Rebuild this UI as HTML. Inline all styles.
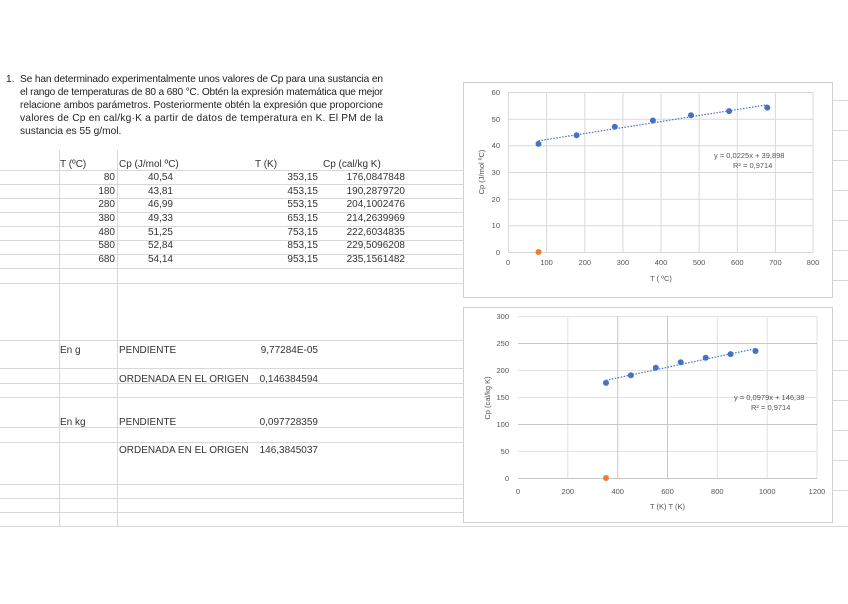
<!DOCTYPE html>
<html><head><meta charset="utf-8"><style>
body{margin:0;background:#fff;width:848px;height:599px;overflow:hidden;font-family:"Liberation Sans",sans-serif}
</style></head><body>
<svg width="848" height="599" xmlns="http://www.w3.org/2000/svg" font-family="Liberation Sans, sans-serif">
<rect width="848" height="599" fill="#fff"/>
<!-- sheet grid -->
<g stroke="#d8d8d8" stroke-width="1">
<line x1="0" y1="170.5" x2="463" y2="170.5"/>
<line x1="0" y1="184.5" x2="463" y2="184.5"/>
<line x1="0" y1="198.5" x2="463" y2="198.5"/>
<line x1="0" y1="212.5" x2="463" y2="212.5"/>
<line x1="0" y1="226.5" x2="463" y2="226.5"/>
<line x1="0" y1="240.5" x2="463" y2="240.5"/>
<line x1="0" y1="254.5" x2="463" y2="254.5"/>
<line x1="0" y1="268.5" x2="463" y2="268.5"/>
<line x1="0" y1="283.5" x2="463" y2="283.5"/>
<line x1="0" y1="340.5" x2="463" y2="340.5"/>
<line x1="0" y1="368.5" x2="463" y2="368.5"/>
<line x1="0" y1="383.5" x2="463" y2="383.5"/>
<line x1="0" y1="397.5" x2="463" y2="397.5"/>
<line x1="0" y1="427.5" x2="463" y2="427.5"/>
<line x1="0" y1="442.5" x2="463" y2="442.5"/>
<line x1="0" y1="484.5" x2="463" y2="484.5"/>
<line x1="0" y1="498.5" x2="463" y2="498.5"/>
<line x1="0" y1="512.5" x2="463" y2="512.5"/>
<line x1="0" y1="526.5" x2="848" y2="526.5"/>
<line x1="59.5" y1="150" x2="59.5" y2="526"/>
<line x1="117.5" y1="150" x2="117.5" y2="526"/>
<line x1="833" y1="100.5" x2="848" y2="100.5"/>
<line x1="833" y1="130.5" x2="848" y2="130.5"/>
<line x1="833" y1="160.5" x2="848" y2="160.5"/>
<line x1="833" y1="190.5" x2="848" y2="190.5"/>
<line x1="833" y1="220.5" x2="848" y2="220.5"/>
<line x1="833" y1="250.5" x2="848" y2="250.5"/>
<line x1="833" y1="280.5" x2="848" y2="280.5"/>
<line x1="833" y1="340.5" x2="848" y2="340.5"/>
<line x1="833" y1="370.5" x2="848" y2="370.5"/>
<line x1="833" y1="400.5" x2="848" y2="400.5"/>
<line x1="833" y1="430.5" x2="848" y2="430.5"/>
<line x1="833" y1="460.5" x2="848" y2="460.5"/>
<line x1="833" y1="490.5" x2="848" y2="490.5"/>
</g>
<!-- paragraph -->
<g font-size="10.2" fill="#222">
<text x="6" y="82">1.</text>
<text x="20" y="82" textLength="363" lengthAdjust="spacing">Se han determinado experimentalmente unos valores de Cp para una sustancia en</text>
<text x="20" y="95" textLength="363" lengthAdjust="spacing">el rango de temperaturas de 80 a 680 °C. Obtén la expresión matemática que mejor</text>
<text x="20" y="108" textLength="363" lengthAdjust="spacing">relacione ambos parámetros. Posteriormente obtén la expresión que proporcione</text>
<text x="20" y="121" textLength="363" lengthAdjust="spacing">valores de Cp en cal/kg·K a partir de datos de temperatura en K. El PM de la</text>
<text x="20" y="134">sustancia es 55 g/mol.</text>
</g>
<!-- table -->
<g font-size="10" fill="#333">
<text x="60" y="167">T (ºC)</text>
<text x="119" y="167">Cp (J/mol ºC)</text>
<text x="255" y="167">T (K)</text>
<text x="323" y="167">Cp (cal/kg K)</text>
<g text-anchor="end">
<text x="115" y="180">80</text><text x="173" y="180">40,54</text><text x="318" y="180">353,15</text><text x="405" y="180">176,0847848</text>
<text x="115" y="194">180</text><text x="173" y="194">43,81</text><text x="318" y="194">453,15</text><text x="405" y="194">190,2879720</text>
<text x="115" y="207">280</text><text x="173" y="207">46,99</text><text x="318" y="207">553,15</text><text x="405" y="207">204,1002476</text>
<text x="115" y="221">380</text><text x="173" y="221">49,33</text><text x="318" y="221">653,15</text><text x="405" y="221">214,2639969</text>
<text x="115" y="235">480</text><text x="173" y="235">51,25</text><text x="318" y="235">753,15</text><text x="405" y="235">222,6034835</text>
<text x="115" y="248">580</text><text x="173" y="248">52,84</text><text x="318" y="248">853,15</text><text x="405" y="248">229,5096208</text>
<text x="115" y="262">680</text><text x="173" y="262">54,14</text><text x="318" y="262">953,15</text><text x="405" y="262">235,1561482</text>
</g>
<text x="60" y="353">En g</text>
<text x="119" y="353">PENDIENTE</text>
<text x="318" y="353" text-anchor="end">9,77284E-05</text>
<text x="119" y="382">ORDENADA EN EL ORIGEN</text>
<text x="318" y="382" text-anchor="end">0,146384594</text>
<text x="60" y="425">En kg</text>
<text x="119" y="425">PENDIENTE</text>
<text x="318" y="425" text-anchor="end">0,097728359</text>
<text x="119" y="453">ORDENADA EN EL ORIGEN</text>
<text x="318" y="453" text-anchor="end">146,3845037</text>
</g>
<!-- chart 1 -->
<rect x="463.5" y="82.5" width="369" height="215" fill="#fff" stroke="#d0d0d0"/>
<g stroke="#d9d9d9">
<line x1="508" y1="92.5" x2="813" y2="92.5"/><line x1="508" y1="119.2" x2="813" y2="119.2"/>
<line x1="508" y1="145.8" x2="813" y2="145.8"/><line x1="508" y1="172.5" x2="813" y2="172.5"/>
<line x1="508" y1="199.2" x2="813" y2="199.2"/><line x1="508" y1="225.8" x2="813" y2="225.8"/>
<line x1="508" y1="252.5" x2="813" y2="252.5"/>
<line x1="508.5" y1="92" x2="508.5" y2="252"/><line x1="546.6" y1="92" x2="546.6" y2="252"/>
<line x1="584.8" y1="92" x2="584.8" y2="252"/><line x1="622.9" y1="92" x2="622.9" y2="252"/>
<line x1="661" y1="92" x2="661" y2="252"/><line x1="699.1" y1="92" x2="699.1" y2="252"/>
<line x1="737.3" y1="92" x2="737.3" y2="252"/><line x1="775.4" y1="92" x2="775.4" y2="252"/>
<line x1="813" y1="92" x2="813" y2="252"/>
</g>
<g font-size="7.5" fill="#555" text-anchor="end">
<text x="500" y="95">60</text><text x="500" y="122">50</text><text x="500" y="148">40</text>
<text x="500" y="175">30</text><text x="500" y="202">20</text><text x="500" y="228">10</text><text x="500" y="255">0</text>
</g>
<g font-size="7.5" fill="#555" text-anchor="middle">
<text x="508" y="265">0</text><text x="546.6" y="265">100</text><text x="584.8" y="265">200</text><text x="622.9" y="265">300</text>
<text x="661" y="265">400</text><text x="699.1" y="265">500</text><text x="737.3" y="265">600</text><text x="775.4" y="265">700</text><text x="813" y="265">800</text>
<text x="661" y="281">T ( ºC)</text>
<text transform="translate(484,172) rotate(-90)">Cp (J/mol ºC)</text>
</g>
<line x1="538.5" y1="140.8" x2="767.3" y2="104.8" stroke="#4472c4" stroke-width="1.2" stroke-dasharray="1.5,1.5"/>
<g fill="#4472c4">
<circle cx="538.5" cy="143.9" r="3"/><circle cx="576.6" cy="135.2" r="3"/><circle cx="614.8" cy="126.7" r="3"/>
<circle cx="652.9" cy="120.5" r="3"/><circle cx="691" cy="115.3" r="3"/><circle cx="729.1" cy="111.1" r="3"/><circle cx="767.3" cy="107.6" r="3"/>
</g>
<circle cx="538.5" cy="252" r="3" fill="#ed7d31"/>
<g font-size="7.5" fill="#555"><text x="714" y="158">y = 0,0225x + 39,898</text><text x="733" y="168">R² = 0,9714</text></g>
<!-- chart 2 -->
<rect x="463.5" y="307.5" width="369" height="215" fill="#fff" stroke="#d0d0d0"/>
<g stroke="#e2e2e2">
<line x1="518" y1="316.5" x2="817" y2="316.5"/><line x1="518" y1="343.5" x2="817" y2="343.5"/>
<line x1="518" y1="370.5" x2="817" y2="370.5"/><line x1="518" y1="397.5" x2="817" y2="397.5"/>
<line x1="518" y1="424.5" x2="817" y2="424.5"/><line x1="518" y1="451.5" x2="817" y2="451.5"/>
<line x1="567.8" y1="316" x2="567.8" y2="478"/><line x1="717.3" y1="316" x2="717.3" y2="478"/>
<line x1="767.2" y1="316" x2="767.2" y2="478"/><line x1="817" y1="316" x2="817" y2="478"/>
</g>
<g stroke="#c8c8c8">
<line x1="617.7" y1="316" x2="617.7" y2="478"/><line x1="667.5" y1="316" x2="667.5" y2="478"/>
<line x1="518" y1="343.5" x2="817" y2="343.5"/><line x1="518" y1="424.5" x2="817" y2="424.5"/>
<line x1="518" y1="478.5" x2="817" y2="478.5"/>
</g>
<g font-size="7.5" fill="#555" text-anchor="end">
<text x="509" y="319">300</text><text x="509" y="346">250</text><text x="509" y="373">200</text>
<text x="509" y="400">150</text><text x="509" y="427">100</text><text x="509" y="454">50</text><text x="509" y="481">0</text>
</g>
<g font-size="7.5" fill="#555" text-anchor="middle">
<text x="518" y="494">0</text><text x="567.8" y="494">200</text><text x="617.7" y="494">400</text><text x="667.5" y="494">600</text>
<text x="717.3" y="494">800</text><text x="767.2" y="494">1000</text><text x="817" y="494">1200</text>
<text x="667.5" y="509">T (K) T (K)</text>
<text transform="translate(490,398) rotate(-90)">Cp (cal/kg K)</text>
</g>
<line x1="606" y1="380.3" x2="755.5" y2="348.6" stroke="#4472c4" stroke-width="1.2" stroke-dasharray="1.5,1.5"/>
<g fill="#4472c4">
<circle cx="606" cy="382.9" r="3"/><circle cx="630.9" cy="375.2" r="3"/><circle cx="655.8" cy="367.8" r="3"/>
<circle cx="680.7" cy="362.3" r="3"/><circle cx="705.7" cy="357.8" r="3"/><circle cx="730.6" cy="354.1" r="3"/><circle cx="755.5" cy="351" r="3"/>
</g>
<circle cx="606" cy="478" r="3" fill="#ed7d31"/>
<g font-size="7.5" fill="#555"><text x="734" y="400">y = 0,0979x + 146,38</text><text x="751" y="410">R² = 0,9714</text></g>
</svg>
</body></html>
